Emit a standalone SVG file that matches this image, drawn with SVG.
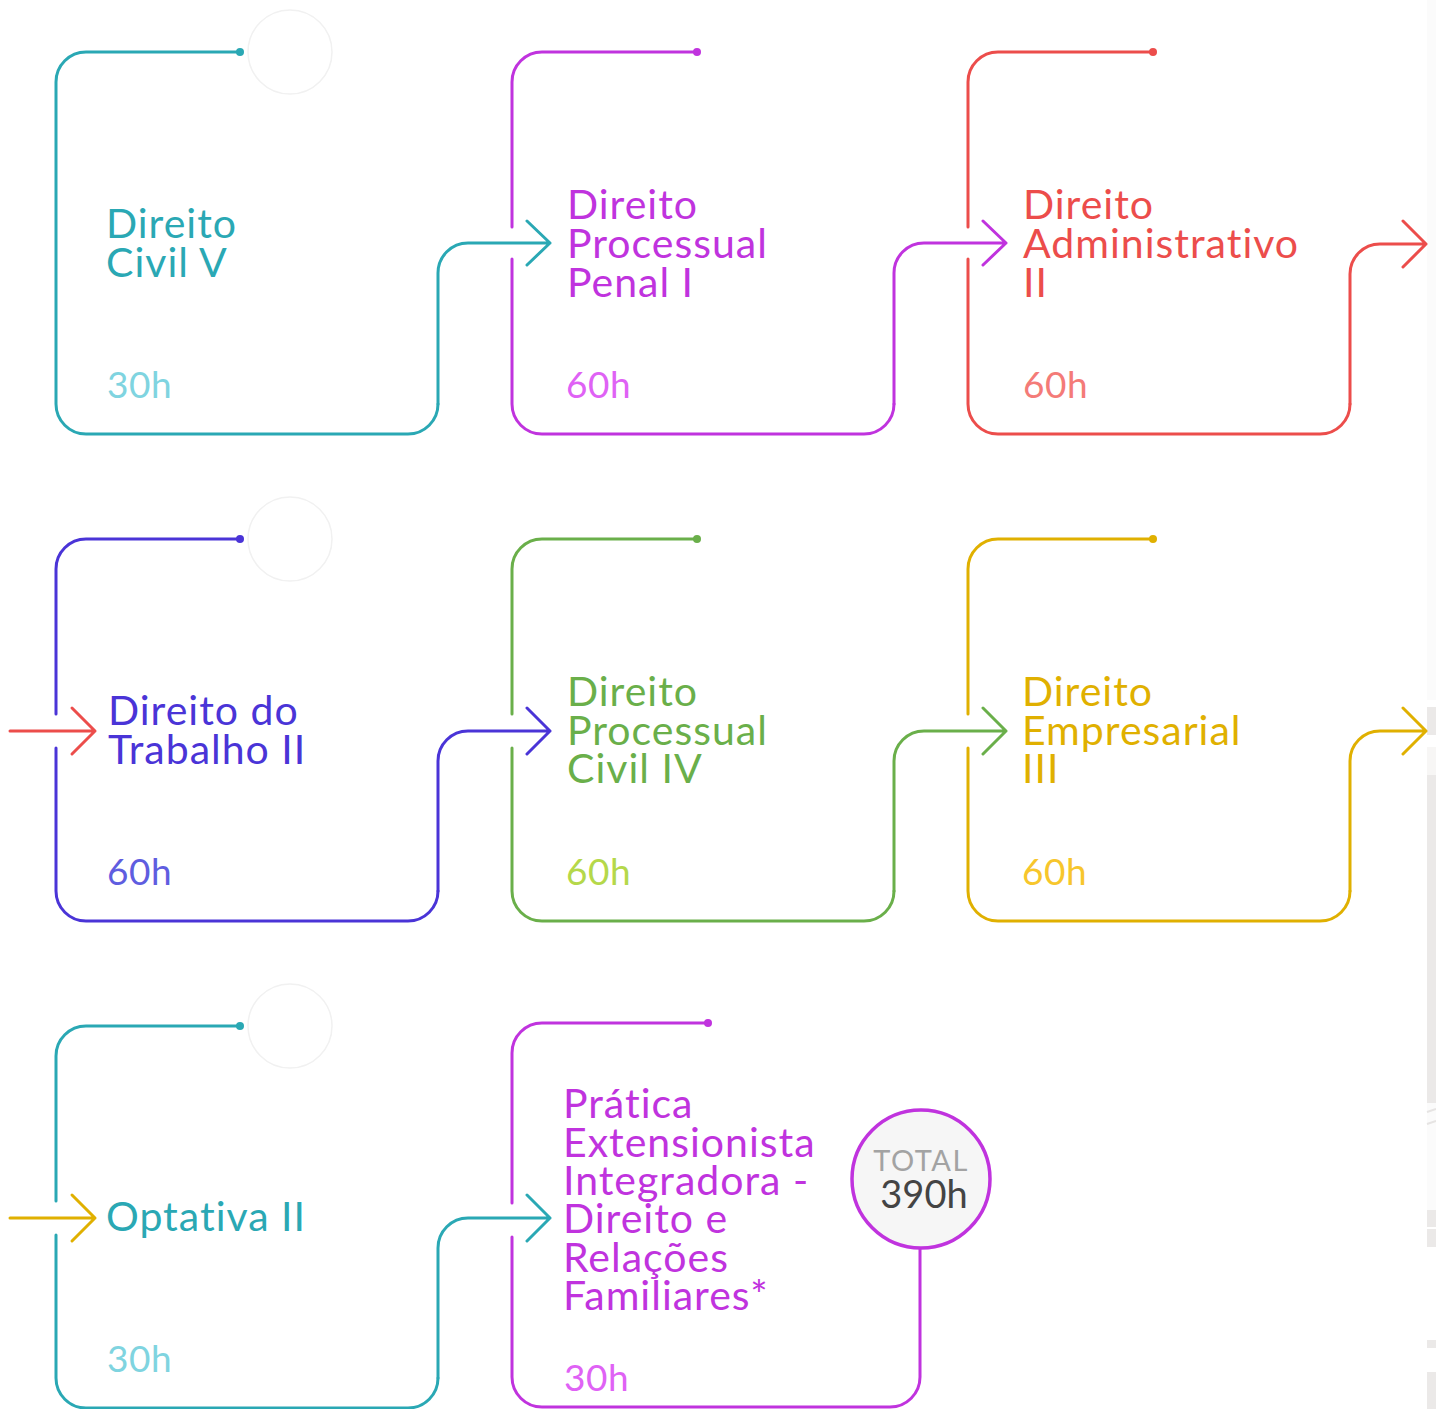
<svg xmlns="http://www.w3.org/2000/svg" width="1436" height="1409" viewBox="0 0 1436 1409">
  <style>
    text { font-variant-ligatures: none; }
    .ln { fill: none; stroke-width: 3; stroke-linecap: round; stroke-linejoin: round; }
    .ghost { fill: none; stroke: #f1f1f1; stroke-width: 1.5; }
    .title { font-family: Lato, "Open Sans", sans-serif; font-size: 41px; letter-spacing: 1px; }
    .hours { font-family: Lato, "Open Sans", sans-serif; font-size: 37px; letter-spacing: 0.6px; }
    .teal { stroke: #2aa8b4; } .teal-t { fill: #2aa8b4; } .teal-h { fill: #7fd4e0; }
    .mag { stroke: #c033de; } .mag-t { fill: #c033de; } .mag-h { fill: #df62f5; }
    .red { stroke: #ec4d4b; } .red-t { fill: #ec4d4b; } .red-h { fill: #f47b78; }
    .pur { stroke: #4a34d7; } .pur-t { fill: #4a34d7; } .pur-h { fill: #5f5de0; }
    .grn { stroke: #6aaf4a; } .grn-t { fill: #6aaf4a; } .grn-h { fill: #b5d84a; }
    .gld { stroke: #e0b000; } .gld-t { fill: #e0b000; } .gld-h { fill: #f7c62c; }
  </style>

  <rect width="1436" height="1409" fill="#ffffff"/>

  <!-- edge strip on the right -->
  <g id="edge-strip" fill="#ebe9e8">
    <rect x="1427" y="0" width="9" height="700" fill="#fbfbfb"/>
    <rect x="1427" y="707" width="9" height="28"/>
    <rect x="1427" y="747" width="9" height="28" fill="#f7f6f5"/>
    <rect x="1427" y="775" width="9" height="328"/>
    <rect x="1427" y="1103" width="9" height="107" fill="#fbfbfb"/>
    <path d="M1427,1112 L1436,1109 M1427,1124 L1436,1121" stroke="#e6e4e3" stroke-width="2" fill="none"/>
    <rect x="1427" y="1210" width="9" height="17"/>
    <rect x="1427" y="1229" width="9" height="18"/>
    <rect x="1427" y="1340" width="9" height="8"/>
    <rect x="1427" y="1372" width="9" height="37"/>
  </g>

  <!-- faint decorative rings beside the top lines -->
  <g id="rings">
    <circle class="ghost" cx="290" cy="52" r="42"/>
    <circle class="ghost" cx="290" cy="539" r="42"/>
    <circle class="ghost" cx="290" cy="1026" r="42"/>
  </g>

  <!-- Row 1 -->
  <g id="node-civil-v">
    <path class="ln teal" d="M240,52 H86 A30,30 0 0 0 56,82 V404 A30,30 0 0 0 86,434 H408 A30,30 0 0 0 438,404"/>
    <circle cx="240" cy="52" r="4" fill="#2aa8b4"/>
    <text class="title teal-t" x="106" y="238">Direito</text>
    <text class="title teal-t" x="106" y="277">Civil V</text>
    <text class="hours teal-h" x="107" y="398">30h</text>
  </g>

  <g id="node-processual-penal">
    <path class="ln mag" d="M697,52 H542 A30,30 0 0 0 512,82 V227 M512,259 V404 A30,30 0 0 0 542,434 H864 A30,30 0 0 0 894,404"/>
    <circle cx="697" cy="52" r="4" fill="#c033de"/>
    <text class="title mag-t" x="567" y="219">Direito</text>
    <text class="title mag-t" x="567" y="258">Processual</text>
    <text class="title mag-t" x="567" y="297">Penal I</text>
    <text class="hours mag-h" x="566" y="398">60h</text>
  </g>

  <g id="node-administrativo">
    <path class="ln red" d="M1153,52 H998 A30,30 0 0 0 968,82 V227 M968,259 V404 A30,30 0 0 0 998,434 H1320 A30,30 0 0 0 1350,404"/>
    <circle cx="1153" cy="52" r="4" fill="#ec4d4b"/>
    <text class="title red-t" x="1023" y="219">Direito</text>
    <text class="title red-t" x="1023" y="258">Administrativo</text>
    <text class="title red-t" x="1023" y="297">II</text>
    <text class="hours red-h" x="1023" y="398">60h</text>
  </g>

  <!-- Row 2 -->
  <g id="node-trabalho">
    <path class="ln pur" d="M240,539 H86 A30,30 0 0 0 56,569 V714 M56,748 V891 A30,30 0 0 0 86,921 H408 A30,30 0 0 0 438,891"/>
    <circle cx="240" cy="539" r="4" fill="#4a34d7"/>
    <text class="title pur-t" x="108" y="725">Direito do</text>
    <text class="title pur-t" x="108" y="764">Trabalho II</text>
    <text class="hours pur-h" x="107" y="885">60h</text>
  </g>

  <g id="node-processual-civil">
    <path class="ln grn" d="M697,539 H542 A30,30 0 0 0 512,569 V714 M512,748 V891 A30,30 0 0 0 542,921 H864 A30,30 0 0 0 894,891"/>
    <circle cx="697" cy="539" r="4" fill="#6aaf4a"/>
    <text class="title grn-t" x="567" y="706">Direito</text>
    <text class="title grn-t" x="567" y="745">Processual</text>
    <text class="title grn-t" x="567" y="783">Civil IV</text>
    <text class="hours grn-h" x="566" y="885">60h</text>
  </g>

  <g id="node-empresarial">
    <path class="ln gld" d="M1153,539 H998 A30,30 0 0 0 968,569 V714 M968,748 V891 A30,30 0 0 0 998,921 H1320 A30,30 0 0 0 1350,891"/>
    <circle cx="1153" cy="539" r="4" fill="#e0b000"/>
    <text class="title gld-t" x="1022" y="706">Direito</text>
    <text class="title gld-t" x="1022" y="745">Empresarial</text>
    <text class="title gld-t" x="1022" y="783">III</text>
    <text class="hours gld-h" x="1022" y="885">60h</text>
  </g>

  <!-- Row 3 -->
  <g id="node-optativa">
    <path class="ln teal" d="M240,1026 H86 A30,30 0 0 0 56,1056 V1201 M56,1235 V1378 A30,30 0 0 0 86,1408 H408 A30,30 0 0 0 438,1378"/>
    <circle cx="240" cy="1026" r="4" fill="#2aa8b4"/>
    <text class="title teal-t" x="106" y="1231">Optativa II</text>
    <text class="hours teal-h" x="107" y="1372">30h</text>
  </g>

  <g id="node-pratica">
    <path class="ln mag" d="M708,1023 H542 A30,30 0 0 0 512,1053 V1203 M512,1237 V1377 A30,30 0 0 0 542,1407 H890 A30,30 0 0 0 920,1377 V1249"/>
    <circle cx="708" cy="1023" r="4" fill="#c033de"/>
    <text class="title mag-t" x="563" y="1118">Prática</text>
    <text class="title mag-t" x="563" y="1157">Extensionista</text>
    <text class="title mag-t" x="563" y="1195">Integradora -</text>
    <text class="title mag-t" x="563" y="1233">Direito e</text>
    <text class="title mag-t" x="563" y="1272">Relações</text>
    <text class="title mag-t" x="563" y="1310">Familiares*</text>
    <text class="hours mag-h" x="564" y="1391">30h</text>
  </g>

  <g id="node-total">
    <circle cx="921" cy="1179" r="69" fill="#f6f6f6" stroke="#c033de" stroke-width="3.5"/>
    <text x="921" y="1171" text-anchor="middle" font-family="Lato, 'Open Sans', sans-serif" font-size="29" letter-spacing="1.5" fill="#a3a3a3">TOTAL</text>
    <text x="924" y="1208" text-anchor="middle" font-family="Lato, 'Open Sans', sans-serif" font-size="38" fill="#444444">390h</text>
  </g>

  <!-- Connectors: each rises from a node's corner and points at the next one -->
  <g id="connectors">
    <path class="ln teal" d="M438,404 V273 A30,30 0 0 1 468,243 H550 M527,221 L550,243 L527,265"/>
    <path class="ln mag" d="M894,404 V273 A30,30 0 0 1 924,243 H1006 M983,221 L1006,243 L983,265"/>
    <path class="ln red" d="M1350,404 V274 A30,30 0 0 1 1380,244 H1426 M1403,221 L1426,244 L1403,267"/>

    <path class="ln red" d="M10,731 H95 M72,708 L95,731 L72,754"/>
    <path class="ln pur" d="M438,891 V761 A30,30 0 0 1 468,731 H550 M527,708 L550,731 L527,754"/>
    <path class="ln grn" d="M894,891 V761 A30,30 0 0 1 924,731 H1006 M983,708 L1006,731 L983,754"/>
    <path class="ln gld" d="M1350,891 V761 A30,30 0 0 1 1380,731 H1426 M1403,708 L1426,731 L1403,754"/>

    <path class="ln gld" d="M10,1218 H95 M72,1195 L95,1218 L72,1241"/>
    <path class="ln teal" d="M438,1378 V1248 A30,30 0 0 1 468,1218 H550 M527,1195 L550,1218 L527,1241"/>
  </g>
</svg>
